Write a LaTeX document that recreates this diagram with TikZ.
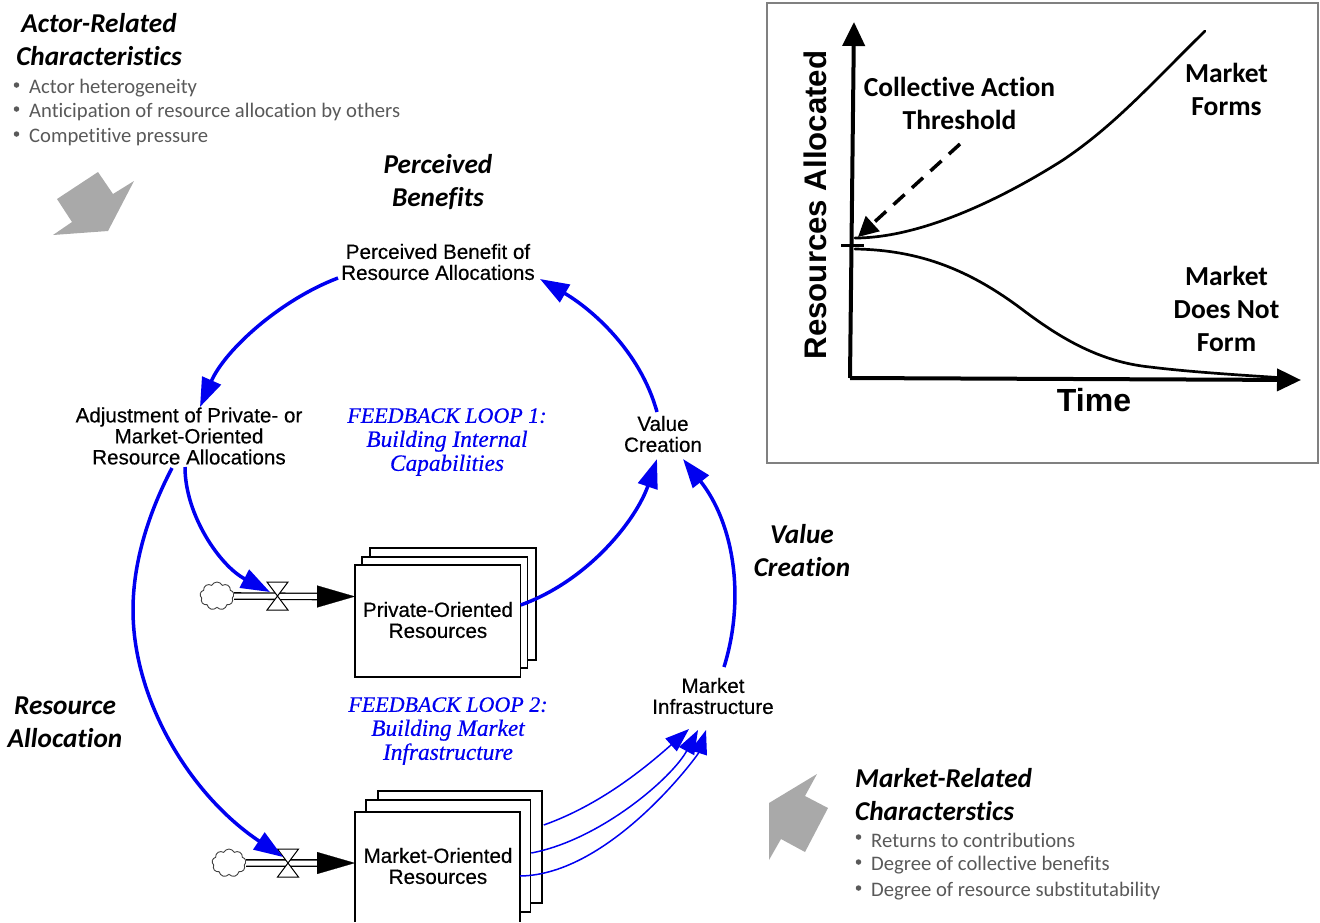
\documentclass[tikz,border=0pt]{standalone}
\usepackage{fontspec}
\setmainfont{Liberation Sans}[FakeBold=0.4]
\newfontfamily\plainsans{Liberation Sans}
\newfontfamily\calib{Carlito}[Ligatures=NoCommon]
\newfontfamily\tnr{Liberation Serif}[FakeBold=0.5]
\usetikzlibrary{arrows.meta,shapes.symbols}
\definecolor{bl}{RGB}{0,0,240}
\definecolor{gr}{RGB}{169,169,169}
\definecolor{txgr}{RGB}{89,89,89}
\newcommand{\widerline}{\fontsize{23.3}{24}\selectfont}
\tikzset{
 x=1pt,y=-1pt,
 head/.style={font=\calib\bfseries\itshape\fontsize{27.25}{33}\selectfont,align=center,inner sep=0},
 headl/.style={head,align=left,anchor=west},
 lab/.style={font=\fontsize{20.6}{21}\selectfont,align=center,inner sep=0},
 loopt/.style={font=\tnr\itshape\fontsize{22}{24}\selectfont,align=center,inner sep=0,text=bl},
 item/.style={font=\calib\fontsize{20.65}{24}\selectfont,text=txgr,inner sep=0,anchor=west},
 dot/.style={circle,fill=txgr,inner sep=0,minimum size=5.5},
 thick blue/.style={draw=bl,line width=3.5,-{Triangle[length=29,width=20]}},
 thin blue/.style={draw=bl,line width=1.5,-{Triangle[length=24,width=17]}},
 stock/.style={draw=black,line width=1.5,fill=white},
 pipe/.style={double=white,draw=black,line width=1.3,double distance=5},
 flowtip/.style={draw=black,fill=black,-{Triangle[length=38,width=22]},line width=0.2},
 valve/.style={draw=black,line width=1,fill=white},
 cloudn/.style={cloud,cloud puffs=9,cloud puff arc=130,aspect=1.25,draw=black!75,line width=0.9,inner sep=0,minimum width=34,minimum height=28},
 grarrow/.style={fill=gr,draw=none},
 graph/.style={line width=2.7,draw=black,line cap=round},
 axis/.style={line width=4,draw=black,-{Triangle[length=24,width=22]}},
 bold/.style={font=\calib\bfseries\fontsize{27.5}{33}\selectfont,align=center,inner sep=0},
 big/.style={font=\plainsans\bfseries\fontsize{32}{36}\selectfont,inner sep=0},
}
\begin{document}
\begin{tikzpicture}
\useasboundingbox (0,0) rectangle (1320,922);
% headings
\node[head] (h1) at (99,40) {Actor-Related\\Characteristics};
\node[dot] (d1) at (16.5,85) {}; \node[item] (i1) at (29,88) {Actor heterogeneity};
\node[dot] (d2) at (16.5,109) {}; \node[item] (i2) at (29,112) {Anticipation of resource allocation by others};
\node[dot] (d3) at (16.5,134) {}; \node[item] (i3) at (29,137) {Competitive pressure};
\node[head] (h2) at (438,182) {Perceived\\Benefits};
\node[head] (h3) at (802,551) {Value\\Creation};
\node[head] (h4) at (65,722) {Resource\\Allocation};
\node[headl] (h5) at (855,795) {Market-Related\\Characterstics};
\node[dot] (d4) at (858.5,837) {}; \node[item] (i4) at (871,840) {Returns to contributions};
\node[dot] (d5) at (858.5,862) {}; \node[item] (i5) at (871,865) {Degree of collective benefits};
\node[dot] (d6) at (858.5,888) {}; \node[item] (i6) at (871,891) {Degree of resource substitutability};
% grey arrows
\fill[grarrow] (98,172)--(113,194)--(134,181)--(108,231)--(53,235)--(72,222)--(57,199)--cycle;
\fill[grarrow] (817,774)--(805,796)--(828,808)--(805,852)--(781,839)--(769,860)--(769,803)--cycle;
% labels
\node[lab] (pb) at (438,262) {Perceived Benefit of\\Resource Allocations};
\node[lab] (adj) at (189,436) {Adjustment of Private- or\\Market-Oriented\\Resource Allocations};
\node[lab] (val) at (663,434) {Value\\Creation};
\node[lab] (inf) at (713,696) {Market\\Infrastructure};
\node[loopt] (l1) at (447,442) {FEEDBACK LOOP 1:\\{\widerline Building Internal}\\{\widerline Capabilities}};
\node[loopt] (l2) at (448,731) {FEEDBACK LOOP 2:\\{\widerline Building Market}\\{\widerline Infrastructure}};
% private stock
\draw[stock] (370,660) rectangle (536,548);
\draw[stock] (362,668) rectangle (527.5,557);
\node[stock,inner sep=0,minimum width=165.5,minimum height=112] (priv) at (437.7,621) {};
\node[lab] (privt) at (438,620) {Private-Oriented\\Resources};
% market stock
\node[stock,inner sep=0,minimum width=164,minimum height=112] (mk3) at (460,847) {};
\node[stock,inner sep=0,minimum width=164.5,minimum height=112] (mk2) at (448.25,856) {};
\path[fill=white] (355,812) rectangle (520,922);
\draw[stock,fill=none] (355,922)--(355,812)--(520,812)--(520,922);
\node[lab] (mark) at (438,866) {Market-Oriented\\Resources};
\coordinate (mk1e) at (520,876);
% flows
\coordinate (e1) at (355,596.5);
\coordinate (e2) at (355,863);
\node[cloudn] (c1) at (217,596) {};
\node[cloudn] (c2) at (229,863) {};
\coordinate (v1) at (277.5,596);
\coordinate (v2) at (288,863);
\draw[pipe] (c1.east) -- ([xshift=-32]e1);
\draw[pipe] (c2.east) -- ([xshift=-32]e2);
\draw[flowtip] ([xshift=-38]e1) -- (e1);
\draw[flowtip] ([xshift=-38]e2) -- (e2);
\draw[valve] ([shift={(-10.5,-14)}]v1) -- ([shift={(10.5,-14)}]v1) -- ([shift={(-10.5,14)}]v1) -- ([shift={(10.5,14)}]v1) -- cycle;
\draw[valve] ([shift={(-10.5,-14)}]v2) -- ([shift={(10.5,-14)}]v2) -- ([shift={(-10.5,14)}]v2) -- ([shift={(10.5,14)}]v2) -- cycle;
% blue loop
\draw[thick blue] ([shift={(-100,16)}]pb.center) .. controls (280,300) and (225,350) .. ([shift={(11,-29)}]adj.center);
\draw[thick blue] ([shift={(-6,-22)}]val.center) .. controls (640,350) and (590,308) .. ([shift={(102,17)}]pb.center);
\draw[thick blue] ([shift={(-4,31)}]adj.center) .. controls (185,515) and (220,566) .. ([shift={(-7.5,-4)}]v1);
\draw[thick blue] ([shift={(-17,32)}]adj.center) .. controls (150,510) and (133,560) .. (133,610) .. controls (133,700) and (190,795) .. ([shift={(-5,-6)}]v2);
\draw[thick blue] ([shift={(83,-16)}]priv.center) .. controls (590,580) and (637,518) .. ([shift={(-6,25)}]val.center);
\draw[thick blue] ([shift={(11,-29)}]inf.center) .. controls (745,600) and (735,525) .. ([shift={(20,25)}]val.center);
\draw[thin blue] ([shift={(1,-22)}]mk3.east) .. controls (600,805) and (645,768) .. ([shift={(-24,33)}]inf.center);
\draw[thin blue] ([shift={(0,-3)}]mk2.east) .. controls (600,840) and (672,778) .. ([shift={(-15,34)}]inf.center);
\draw[thin blue] (mk1e) .. controls (610,875) and (698,755) .. ([shift={(-7,34)}]inf.center);
% inset
\node[draw=black!50,line width=2,inner sep=0,minimum width=551,minimum height=460] (frame) at (1042.5,233) {};
\coordinate (o) at (850,378);
\coordinate (yt) at (854,22);
\coordinate (xt) at (1301,380);
\draw[axis] (o) -- (yt);
\draw[axis] (o) -- (xt);
\node[big,rotate=90,font=\plainsans\bfseries\fontsize{31.2}{36}\selectfont] (yl) at (815,205) {Resources Allocated};
\node[big] (xl) at (1094,400) {Time};
\node[bold] (t1) at (959.5,103) {Collective Action\\Threshold};
\node[bold] (t2) at (1226.5,89) {Market\\Forms};
\node[bold] (t3) at (1226.5,309) {Market\\Does Not\\Form};
\coordinate (th) at (852,245);
\draw[line width=3] ([xshift=-11]th) -- ([xshift=12]th);
\draw[graph] (855,238) .. controls (920,238) and (1000,200) .. (1063,160) .. controls (1115,125) and (1150,85) .. (1205,31);
\draw[graph] (855,249) .. controls (920,250) and (970,270) .. (1023,310) .. controls (1060,338) and (1100,362) .. (1150,367) .. controls (1190,372) and (1240,375) .. (1285,378);
\draw[line width=3.5,dash pattern=on 15pt off 10pt,-{Triangle[length=20,width=20]}] (960,144) -- (858,237);
\end{tikzpicture}
\end{document}
